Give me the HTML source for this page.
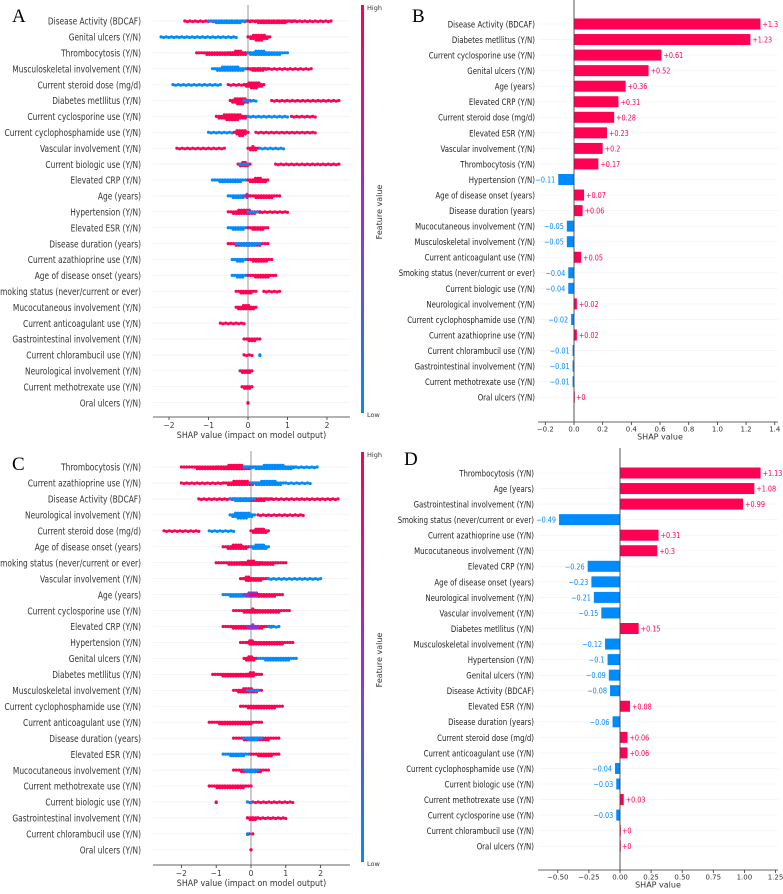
<!DOCTYPE html>
<html><head><meta charset="utf-8"><style>
html,body{margin:0;padding:0;background:#fff}
svg text{font-family:"DejaVu Sans","Liberation Sans",sans-serif}
</style></head><body>
<svg id="fig" width="783" height="889" viewBox="0 0 783 889" xmlns="http://www.w3.org/2000/svg">
<defs><linearGradient id="cb" x1="0" y1="0" x2="0" y2="1"><stop offset="0" stop-color="#ff0052"/><stop offset="0.5" stop-color="#9c2fcf"/><stop offset="1" stop-color="#008bfb"/></linearGradient></defs>
</svg>
<script>
// ---------- DATA ----------
const featuresA = ["Disease Activity (BDCAF)","Genital ulcers (Y/N)","Thrombocytosis (Y/N)","Musculoskeletal involvement (Y/N)","Current steroid dose (mg/d)","Diabetes metllitus (Y/N)","Current cyclosporine use (Y/N)","Current cyclophosphamide use (Y/N)","Vascular involvement (Y/N)","Current biologic use (Y/N)","Elevated CRP (Y/N)","Age (years)","Hypertension (Y/N)","Elevated ESR (Y/N)","Disease duration (years)","Current azathioprine use (Y/N)","Age of disease onset (years)","Smoking status (never/current or ever)","Mucocutaneous involvement (Y/N)","Current anticoagulant use (Y/N)","Gastrointestinal involvement (Y/N)","Current chlorambucil use (Y/N)","Neurological involvement (Y/N)","Current methotrexate use (Y/N)","Oral ulcers (Y/N)"];
// segments per feature: [shapStart, shapEnd, colour r/b/p, thickness]
const swarmA = [
 [[-1.6,2.1,'r',1],[-1.0,0,'b',2],[0,1.2,'r',2]],
 [[-2.2,-0.3,'b',1],[0,0.55,'r',4]],
 [[-1.3,0,'r',2],[-0.5,0,'r',3],[0,1.0,'b',2],[0,0.6,'b',3]],
 [[-0.9,0,'b',3],[0,1.6,'r',1],[0,0.5,'r',2]],
 [[-1.9,-0.7,'b',1],[-0.5,-0.1,'r',1],[-0.1,0.4,'r',4]],
 [[-0.45,0.05,'r',4],[-0.1,0.2,'b',1],[0.6,2.3,'r',1]],
 [[-0.8,0,'r',4],[0,1.0,'b',1],[1.1,1.7,'r',1]],
 [[-1.0,-0.4,'b',1],[-0.35,0,'r',4],[0.2,1.7,'r',1]],
 [[-1.8,-0.6,'r',1],[0,0.25,'r',3],[0.3,0.9,'b',1]],
 [[-0.25,0.05,'r',3],[-0.2,0,'b',1],[0.7,2.3,'r',1]],
 [[-0.9,0,'b',2],[0,0.5,'r',3]],
 [[-0.5,0,'b',2],[-0.1,0.05,'p',3],[0,0.8,'r',2]],
 [[-0.5,0.3,'r',3],[0,0.3,'b',1],[0.3,1.0,'r',1]],
 [[-0.5,0,'b',2],[0,0.5,'r',2]],
 [[-0.5,0.5,'r',2],[-0.3,0.3,'b',2]],
 [[-0.4,0,'b',2],[0,0.6,'r',2]],
 [[-0.4,0,'b',2],[0,0.7,'r',2]],
 [[-0.3,0.2,'r',2],[0.4,0.8,'r',1]],
 [[-0.3,0.2,'r',3]],
 [[-0.7,-0.1,'r',1]],
 [[-0.1,0.3,'r',2]],
 [[-0.1,0.1,'r',1],[0.3,0.3,'b',1]],
 [[-0.2,0.1,'r',2]],
 [[-0.15,0.1,'r',2]],
 [[0,0,'r',1]]
];
const featuresB = ["Disease Activity (BDCAF)","Diabetes metllitus (Y/N)","Current cyclosporine use (Y/N)","Genital ulcers (Y/N)","Age (years)","Elevated CRP (Y/N)","Current steroid dose (mg/d)","Elevated ESR (Y/N)","Vascular involvement (Y/N)","Thrombocytosis (Y/N)","Hypertension (Y/N)","Age of disease onset (years)","Disease duration (years)","Mucocutaneous involvement (Y/N)","Musculoskeletal involvement (Y/N)","Current anticoagulant use (Y/N)","Smoking status (never/current or ever)","Current biologic use (Y/N)","Neurological involvement (Y/N)","Current cyclophosphamide use (Y/N)","Current azathioprine use (Y/N)","Current chlorambucil use (Y/N)","Gastrointestinal involvement (Y/N)","Current methotrexate use (Y/N)","Oral ulcers (Y/N)"];
const valuesB = [1.3,1.23,0.61,0.52,0.36,0.31,0.28,0.23,0.2,0.17,-0.11,0.07,0.06,-0.05,-0.05,0.05,-0.04,-0.04,0.02,-0.02,0.02,-0.01,-0.01,-0.01,0];
const ticksB = [-0.2,0.0,0.2,0.4,0.6,0.8,1.0,1.2,1.4];
const featuresC = ["Thrombocytosis (Y/N)","Current azathioprine use (Y/N)","Disease Activity (BDCAF)","Neurological involvement (Y/N)","Current steroid dose (mg/d)","Age of disease onset (years)","Smoking status (never/current or ever)","Vascular involvement (Y/N)","Age (years)","Current cyclosporine use (Y/N)","Elevated CRP (Y/N)","Hypertension (Y/N)","Genital ulcers (Y/N)","Diabetes metllitus (Y/N)","Musculoskeletal involvement (Y/N)","Current cyclophosphamide use (Y/N)","Current anticoagulant use (Y/N)","Disease duration (years)","Elevated ESR (Y/N)","Mucocutaneous involvement (Y/N)","Current methotrexate use (Y/N)","Current biologic use (Y/N)","Gastrointestinal involvement (Y/N)","Current chlorambucil use (Y/N)","Oral ulcers (Y/N)"];
const swarmC = [
 [[-2.0,0.2,'r',2],[-1.0,0.1,'r',3],[-0.2,1.9,'b',1],[0,1.3,'b',3]],
 [[-2.0,-0.8,'r',1],[-0.8,0.2,'r',3],[0,1.0,'b',3],[1.0,1.7,'b',1]],
 [[-1.5,2.5,'r',1],[-0.6,0.6,'r',2],[-0.6,0.1,'b',2]],
 [[-0.6,0.1,'b',4],[0.2,1.5,'r',1]],
 [[-2.5,-1.5,'r',1],[-1.2,-0.5,'b',1],[0,0.5,'r',3]],
 [[-0.8,0,'r',3],[0,0.5,'b',3]],
 [[-1.0,1.0,'r',2],[-0.3,0.3,'r',3]],
 [[-0.3,0.5,'r',2],[-0.2,0.0,'r',3],[0.5,2.0,'b',1]],
 [[-0.8,0,'b',2],[-0.2,0.3,'p',3],[0,0.9,'r',2]],
 [[-0.5,1.1,'r',2],[-0.1,0.2,'r',3]],
 [[-0.8,0.6,'r',2],[-0.1,0.2,'p',3],[0.5,0.8,'b',1]],
 [[-0.3,1.2,'r',2],[-0.1,0.1,'r',3]],
 [[-0.2,0.15,'r',3],[0.2,1.3,'b',2]],
 [[-1.1,0.3,'r',2],[-0.1,0.15,'r',3]],
 [[-0.5,0.3,'r',3],[-0.1,0.2,'b',1]],
 [[-0.3,0.9,'r',2]],
 [[-1.2,0.3,'r',2]],
 [[-0.5,0.8,'r',2],[-0.2,0.3,'b',2]],
 [[-0.8,0,'b',2],[0,0.8,'r',2]],
 [[-0.5,0.5,'r',2],[-0.2,0.2,'b',2]],
 [[-1.2,0,'r',2]],
 [[-1.0,-1.0,'r',1],[-0.1,1.2,'r',1],[-0.1,0,'b',1]],
 [[-0.1,1.0,'r',1],[-0.1,0.2,'r',2]],
 [[-0.05,0.05,'r',2],[-0.1,-0.1,'b',1]],
 [[0,0,'r',2]]
];
const ticksSwarm = [-2,-1,0,1,2];
const featuresD = ["Thrombocytosis (Y/N)","Age (years)","Gastrointestinal involvement (Y/N)","Smoking status (never/current or ever)","Current azathioprine use (Y/N)","Mucocutaneous involvement (Y/N)","Elevated CRP (Y/N)","Age of disease onset (years)","Neurological involvement (Y/N)","Vascular involvement (Y/N)","Diabetes metllitus (Y/N)","Musculoskeletal involvement (Y/N)","Hypertension (Y/N)","Genital ulcers (Y/N)","Disease Activity (BDCAF)","Elevated ESR (Y/N)","Disease duration (years)","Current steroid dose (mg/d)","Current anticoagulant use (Y/N)","Current cyclophosphamide use (Y/N)","Current biologic use (Y/N)","Current methotrexate use (Y/N)","Current cyclosporine use (Y/N)","Current chlorambucil use (Y/N)","Oral ulcers (Y/N)"];
const valuesD = [1.13,1.08,0.99,-0.49,0.31,0.3,-0.26,-0.23,-0.21,-0.15,0.15,-0.12,-0.1,-0.09,-0.08,0.08,-0.06,0.06,0.06,-0.04,-0.03,0.03,-0.03,0,0];
const ticksD = [-0.50,-0.25,0.00,0.25,0.50,0.75,1.00,1.25];

// ---------- DRAW ----------
const svg = document.getElementById('fig');
const NS = 'http://www.w3.org/2000/svg';
const RED='#ff0052', BLUE='#008bfb', PURP='#8f35d4';
function mk(tag, attrs, parent){const e=document.createElementNS(NS,tag);for(const k in attrs)e.setAttribute(k,attrs[k]);(parent||svg).appendChild(e);return e;}
function txt(x,y,s,size,fill,anchor,parent){const t=mk('text',{x:x,y:y,'font-size':size,fill:fill,'text-anchor':anchor||'start'},parent);t.textContent=s;return t;}
function squeeze(t,f){try{const L=t.getComputedTextLength();if(L>0){t.setAttribute('textLength',(L*f).toFixed(1));t.setAttribute('lengthAdjust','spacingAndGlyphs');}}catch(e){}}

function letter(x,y,s){const t=txt(x,y,s,19,'#000','start');t.setAttribute('style','font-family:"Liberation Serif",serif');}

function swarm(cfg, feats, segs){
  const g=mk('g',{});
  
  
  const sx=v=>cfg.x0+v*cfg.k;
  const rowY=i=>cfg.top+i*cfg.step;
  feats.forEach((f,i)=>{
    const y=rowY(i);
    const gl=mk('line',{x1:cfg.left,x2:cfg.right,y1:y,y2:y,stroke:'#eee','stroke-width':0.6},g);
    
    
    const t=txt(cfg.labelX,y+3.7,f,10,'#333','end',g);
    
    
    squeeze(t,0.745);
  });
  const zl=mk('line',{x1:sx(0),x2:sx(0),y1:cfg.top-16,y2:cfg.axisY,stroke:'#bbb','stroke-width':1.5},g);
  
  
  segs.forEach((list,i)=>{
    const y=rowY(i);
    list.forEach(s=>{
      const a=sx(s[0]), b=sx(s[1]);
      const col=s[2]==='r'?RED:(s[2]==='b'?BLUE:PURP);
      const n=Math.max(1,Math.round((b-a)/2.6));
      for(let j=0;j<=n;j++){
        const t=n?j/n:0.5;
        const x=a+(b-a)*t;
        let rows=s[3]>1?Math.max(1,Math.round(s[3]*Math.pow(1-Math.abs(2*t-1),0.6)+0.4)):1;
        for(let r=0;r<rows;r++){
          const off=(r%2?1:-1)*Math.ceil(r/2)*1.6 + (s[3]===1&&j%2?0.6:0);
          const c=mk('circle',{cx:x,cy:y+off,r:1.6,fill:col},g);
          
          
        }
      }
    });
  });
  const ax=mk('line',{x1:cfg.left,x2:cfg.right,y1:cfg.axisY,y2:cfg.axisY,stroke:'#333','stroke-width':0.8},g);
  
  
  ticksSwarm.forEach(v=>{
    mk('line',{x1:sx(v),x2:sx(v),y1:cfg.axisY,y2:cfg.axisY+3,stroke:'#333','stroke-width':0.8},g);
    const t=txt(sx(v),cfg.axisY+11,v<0?'\u2212'+Math.abs(v):String(v),7.5,'#333','middle',g);
    
    
  });
  const tt=txt((cfg.left+cfg.right)/2,cfg.axisY+21,'SHAP value (impact on model output)',8.8,'#333','middle',g);
  
  
  squeeze(tt,0.9);
  const cb=mk('rect',{x:361,y:cfg.cbTop,width:3,height:cfg.cbBot-cfg.cbTop,fill:'url(#cb)'},g);
  
  
  const hi=txt(367,cfg.cbTop+5,'High',6.5,'#333','start',g);
  
  
  const lo=txt(367,cfg.cbBot+4,'Low',6.5,'#333','start',g);
  
  
}

function bars(cfg, feats, vals, ticks, decimals){
  const g=mk('g',{});
  
  
  const sx=v=>cfg.x0+v*cfg.k;
  const rowY=i=>cfg.top+i*cfg.step;
  feats.forEach((f,i)=>{
    const y=rowY(i);
    mk('line',{x1:cfg.left,x2:cfg.right,y1:y,y2:y,stroke:'#f2f2f2','stroke-width':0.6},g);
    const t=txt(cfg.labelX,y+3.4,f,9,'#222','end',g);
    
    
    squeeze(t,0.775);
    const v=vals[i];
    const x1=sx(Math.min(0,v)), w=Math.abs(sx(v)-sx(0));
    const r=mk('rect',{x:x1,y:y-5.5,width:Math.max(w,0.8),height:11,fill:v<0?BLUE:RED},g);
    
    
    const lab=v<0?'\u2212'+Math.abs(v):'+'+v;
    const lt=v<0?txt(sx(v)-3,y+3,lab,7.6,BLUE,'end',g):txt(sx(v)+2,y+3,lab,7.6,RED,'start',g);
    
    
    squeeze(lt,0.85);
  });
  const zl=mk('line',{x1:sx(0),x2:sx(0),y1:cfg.zTop,y2:cfg.axisY,stroke:'#444','stroke-width':0.9},g);
  
  
  const ax=mk('line',{x1:cfg.left,x2:cfg.right,y1:cfg.axisY,y2:cfg.axisY,stroke:'#333','stroke-width':0.8},g);
  
  
  ticks.forEach(v=>{
    mk('line',{x1:sx(v),x2:sx(v),y1:cfg.axisY,y2:cfg.axisY+3,stroke:'#333','stroke-width':0.8},g);
    const s=v<0?'\u2212'+Math.abs(v).toFixed(decimals):v.toFixed(decimals);
    const t=txt(sx(v),cfg.axisY+9.5,s,7,'#333','middle',g);
    
    
  });
  const tt=txt(sx(0)+cfg.titleOff,cfg.axisY+17.5,'SHAP value',8,'#333','middle',g);
  
  
}

function ylabel(x,y){const t=txt(x,y,'Feature value',8,'#333','middle');t.setAttribute('transform','rotate(-90 '+x+' '+y+')');return t;}

swarm({name:'panel-a-beeswarm',x0:248,k:39.5,top:21,step:15.9,left:153,right:350,labelX:141,axisY:417,cbTop:5,cbBot:413},featuresA,swarmA);
swarm({name:'panel-c-beeswarm',x0:251,k:34.8,top:467,step:15.95,left:153,right:350,labelX:141,axisY:865,cbTop:452,cbBot:862},featuresC,swarmC);
bars({name:'panel-b-bars',x0:574,k:143.4,top:24,step:15.55,left:538,right:778,labelX:535,axisY:422,zTop:0,titleOff:86},featuresB,valuesB,ticksB,1);
bars({name:'panel-d-bars',x0:620,k:124.4,top:473,step:15.55,left:538,right:778,labelX:534,axisY:870,zTop:448,titleOff:38},featuresD,valuesD,ticksD,2);
ylabel(382,212);
ylabel(382,660);
letter(12,22,'A'); letter(412,22,'B'); letter(12,470,'C'); letter(404,465,'D');
</script>
</body></html>
